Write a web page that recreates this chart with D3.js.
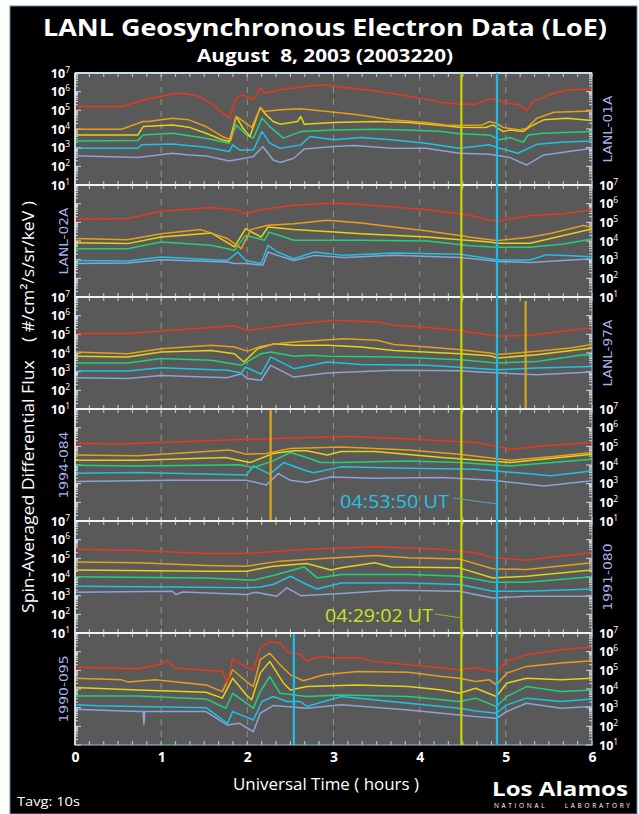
<!DOCTYPE html>
<html>
<head>
<meta charset="utf-8">
<script src="https://cdn.jsdelivr.net/npm/d3@7"></script>
<style>
  body { margin: 0; background: #fff; }
  svg { display: block; font-family: "Open Sans", sans-serif; }
</style>
</head>
<body>
<div id="chart"></div>
<script>
// values are [UT hours, log10 flux]
var hourTicks = [0, 1, 2, 3, 4, 5, 6];
var decadeExponents = [1, 2, 3, 4, 5, 6, 7];
var satellites = ["LANL-01A", "LANL-02A", "LANL-97A", "1994-084", "1991-080", "1990-095"];

var lanl01aRed = [[0,5.21],[0.54,5.21],[0.81,5.57],[1.13,5.87],[1.24,5.91],[1.44,5.75],[1.6,5.3],[1.79,4.58],[1.87,5.66],[1.93,5.84],[2.07,5.57],[2.15,6.23],[2.2,5.92],[2.38,6.1],[2.69,6.28],[2.85,6.37],[3.09,6.25],[3.48,6.05],[3.87,5.75],[4.07,5.6],[4.26,5.42],[4.46,5.33],[4.65,5.33],[4.81,5.62],[4.89,5.57],[5.01,5.39],[5.16,5.3],[5.24,4.97],[5.32,5.48],[5.52,5.87],[5.71,6.09],[6,6.14]];
var lanl01aOrange = [[0,3.99],[0.54,3.99],[0.79,4.4],[0.85,4.4],[1.13,4.58],[1.32,4.49],[1.52,4.13],[1.71,3.6],[1.81,3.42],[1.87,4.67],[1.93,4.49],[2.05,4.08],[2.15,5.15],[2.2,4.94],[2.38,5.03],[2.62,5.08],[2.93,4.94],[3.28,4.76],[3.67,4.49],[4.07,4.35],[4.3,4.22],[4.46,4.19],[4.73,4.22],[4.81,4.4],[4.89,4.31],[4.97,4.08],[5.16,3.95],[5.24,4.04],[5.36,4.58],[5.56,4.9],[6,4.97]];
var lanl01aYellow = [[0,3.68],[0.73,3.68],[0.79,4.13],[1.13,4.22],[1.32,4.1],[1.52,3.77],[1.71,3.42],[1.79,3.33],[1.87,4.67],[1.95,4.04],[2.03,3.6],[2.15,5.15],[2.2,4.85],[2.3,4.4],[2.38,4.26],[2.58,4.4],[2.62,4.67],[2.66,4.26],[3.0,4.35],[3.48,4.4],[3.87,4.35],[4.26,4.19],[4.46,4.1],[4.77,4.08],[4.85,4.22],[4.97,3.86],[5.05,3.95],[5.2,3.86],[5.28,4.13],[5.44,4.49],[5.71,4.58],[6,4.46]];
var lanl01aGreen = [[0,3.36],[0.73,3.38],[0.79,3.68],[1.13,3.77],[1.52,3.51],[1.79,3.24],[1.87,4.22],[1.99,3.68],[2.07,3.51],[2.17,4.58],[2.26,4.13],[2.42,3.51],[2.62,3.86],[3.0,3.95],[3.48,3.99],[3.87,3.95],[4.26,3.86],[4.46,3.74],[4.81,3.68],[4.93,3.42],[5.05,3.54],[5.2,3.29],[5.26,3.68],[5.44,3.77],[6,3.86]];
var lanl01aCyan = [[0,2.97],[0.73,2.97],[0.77,3.15],[1.13,3.19],[1.52,3.02],[1.79,2.79],[1.83,3.15],[1.91,2.88],[2.07,2.88],[2.17,3.86],[2.26,3.24],[2.38,2.97],[2.62,3.15],[2.73,3.6],[3.0,3.42],[3.32,3.54],[3.67,3.42],[4.07,3.24],[4.46,2.97],[4.81,3.15],[4.93,2.97],[5.14,2.7],[5.36,3.18],[5.64,3.29],[6,3.36]];
var lanl01aBlue = [[0,2.57],[0.73,2.47],[1.13,2.7],[1.32,2.61],[1.52,2.56],[1.79,2.29],[2.07,2.52],[2.18,3.06],[2.3,2.34],[2.38,2.21],[2.54,2.43],[2.66,2.93],[3.0,3.06],[3.24,3.11],[3.67,2.97],[4.07,2.97],[4.46,2.7],[4.81,2.65],[5.05,2.47],[5.24,2.07],[5.44,2.61],[6,2.97]];

var lanl02aRed = [[0,5.16],[0.61,5.2],[1.0,5.59],[1.58,5.79],[1.85,5.68],[1.98,5.46],[2.16,5.68],[2.54,5.91],[3.01,6.04],[3.32,5.96],[3.7,5.82],[4.09,5.68],[4.47,5.46],[4.6,5.37],[4.82,5.11],[4.9,5.06],[5.28,5.37],[5.67,5.46],[6,5.67]];
var lanl02aOrange = [[0,4.13],[0.61,4.07],[1.0,4.39],[1.46,4.61],[1.77,4.13],[1.93,3.59],[2.04,4.61],[2.24,4.84],[2.54,4.93],[2.93,5.11],[3.32,4.96],[3.7,4.75],[4.09,4.54],[4.47,4.3],[4.59,4.2],[4.82,4.07],[4.9,4.02],[5.28,4.2],[5.53,4.41],[5.9,4.83],[6,4.74]];
var lanl02aYellow = [[0,3.91],[0.61,3.86],[1.0,4.21],[1.58,4.43],[1.85,3.68],[1.98,4.66],[2.16,4.21],[2.24,4.75],[2.54,4.61],[3.01,4.48],[3.32,4.39],[4.09,4.21],[4.47,4.07],[4.82,3.95],[4.9,3.88],[5.28,3.88],[5.67,4.29],[6,4.65]];
var lanl02aGreen = [[0,3.59],[0.61,3.59],[1.0,3.95],[1.58,3.77],[1.85,3.5],[1.98,4.3],[2.2,4.04],[2.25,4.48],[2.54,4.04],[3.32,4.04],[4.09,4.0],[4.59,3.75],[4.9,3.66],[5.28,3.66],[5.67,3.84],[6,4.11]];
var lanl02aCyan = [[0,2.96],[0.61,2.93],[1.0,3.14],[1.77,2.96],[1.89,3.41],[1.98,2.96],[2.16,2.79],[2.24,3.77],[2.35,3.41],[2.54,3.05],[2.78,3.41],[3.12,3.23],[3.7,3.36],[4.47,3.29],[4.82,3.05],[4.9,2.98],[5.28,2.98],[5.48,3.27],[6,3.16]];
var lanl02aBlue = [[0,2.79],[0.61,2.82],[1.0,3.0],[1.77,2.88],[1.85,2.79],[2.0,2.79],[2.18,2.7],[2.24,3.41],[2.35,3.23],[2.54,2.96],[2.78,3.23],[3.12,3.11],[3.7,3.23],[4.47,3.11],[4.82,2.96],[4.9,2.9],[5.28,2.85],[6,3.05]];

var lanl97aRed = [[0,5.04],[0.61,5.04],[1.0,5.18],[1.85,5.46],[2.0,5.21],[2.54,5.54],[3.01,5.75],[3.51,5.66],[3.7,5.48],[4.09,5.36],[4.47,5.21],[4.82,4.95],[4.9,4.9],[5.28,4.95],[6,5.35]];
var lanl97aOrange = [[0,4.05],[0.61,3.96],[1.0,4.23],[1.58,4.41],[1.85,4.32],[2.0,4.1],[2.16,4.36],[2.35,4.5],[2.54,4.59],[3.12,4.77],[3.51,4.68],[3.7,4.46],[4.09,4.32],[4.47,4.18],[4.82,4.0],[4.9,3.92],[5.36,4.09],[5.75,4.27],[6,4.45]];
var lanl97aYellow = [[0,3.82],[0.61,3.79],[1.0,4.05],[1.58,4.14],[1.85,3.96],[1.96,3.52],[2.12,4.23],[2.31,4.5],[2.54,4.41],[2.93,4.41],[3.32,4.32],[3.7,4.14],[4.47,3.96],[4.82,3.85],[4.9,3.73],[5.36,3.91],[6,4.27]];
var lanl97aGreen = [[0,3.46],[0.61,3.46],[1.0,3.7],[1.58,3.61],[1.93,3.34],[2.16,3.96],[2.27,4.05],[2.54,3.82],[2.74,3.88],[2.93,3.82],[3.7,3.79],[4.47,3.64],[4.9,3.46],[5.36,3.55],[5.9,3.91],[6,3.85]];
var lanl97aCyan = [[0,3.04],[0.61,3.04],[1.0,3.21],[1.77,3.07],[1.93,2.93],[1.98,3.25],[2.16,2.86],[2.27,3.79],[2.54,3.16],[2.93,3.52],[3.32,3.39],[4.09,3.34],[4.59,3.19],[4.9,3.1],[5.36,3.19],[6,3.28]];
var lanl97aBlue = [[0,2.68],[0.61,2.63],[1.0,2.8],[1.77,2.68],[1.93,2.89],[2.0,2.63],[2.16,2.54],[2.27,3.34],[2.54,2.71],[2.93,2.93],[3.7,3.07],[4.47,3.05],[4.59,3.01],[5.36,2.83],[6,2.98]];

var s1994Red = [[0,5.17],[0.54,5.12],[1.52,5.3],[2.3,5.42],[3.2,5.53],[3.87,5.39],[4.65,5.21],[5.05,4.85],[5.44,5.03],[6,5.21]];
var s1994Orange = [[0,4.53],[0.73,4.49],[1.79,4.8],[1.99,4.58],[2.22,4.62],[2.5,4.89],[3.09,4.97],[3.87,4.8],[4.46,4.58],[5.05,4.26],[5.52,4.44],[6,4.67]];
var s1994Yellow = [[0,4.26],[0.73,4.26],[1.75,4.4],[2.03,4.13],[2.3,4.62],[2.54,4.76],[2.69,4.76],[2.93,4.54],[3.09,4.72],[3.48,4.72],[4.26,4.4],[5.05,4.13],[6,4.58]];
var s1994Green = [[0,3.99],[0.73,3.95],[1.91,4.01],[2.07,3.86],[2.3,4.22],[2.5,4.67],[2.69,4.4],[2.85,4.13],[3.09,4.13],[3.87,4.22],[4.46,4.13],[5.05,3.95],[6,4.31]];
var s1994Cyan = [[0,3.56],[0.73,3.6],[1.99,3.47],[2.07,3.95],[2.26,3.51],[2.42,4.13],[2.69,3.68],[2.77,3.59],[3.09,3.9],[3.87,3.83],[4.65,3.77],[5.24,3.54],[5.52,3.42],[6,3.68]];
var s1994Blue = [[0,3.11],[1.13,3.18],[1.99,3.18],[2.22,2.93],[2.36,3.54],[2.5,3.18],[2.69,3.06],[2.97,3.36],[3.48,3.29],[4.26,3.33],[4.85,3.18],[5.44,2.88],[6,3.15]];

var s1991Red = [[0,5.48],[0.73,5.42],[1.52,5.26],[1.99,5.26],[2.69,5.48],[3.48,5.62],[4.26,5.48],[4.65,5.3],[4.85,5.03],[5.24,4.9],[5.64,5.12],[6,5.3]];
var s1991Orange = [[0,4.8],[0.73,4.76],[1.52,4.62],[1.99,4.58],[2.38,4.85],[2.69,4.94],[3.48,5.15],[3.87,5.03],[4.46,4.97],[4.85,4.44],[5.24,4.4],[6,4.76]];
var s1991Yellow = [[0,4.37],[1.52,4.31],[1.99,4.31],[2.3,4.58],[2.69,4.72],[2.97,4.37],[3.09,4.49],[3.48,4.76],[3.67,4.54],[4.46,4.49],[4.85,3.95],[5.24,4.04],[6,4.37]];
var s1991Green = [[0,4.01],[1.52,3.95],[2.07,3.83],[2.3,4.08],[2.66,4.54],[2.81,3.95],[3.09,4.13],[3.87,4.13],[4.46,4.04],[4.85,3.72],[5.24,3.72],[6,4.01]];
var s1991Cyan = [[0,3.51],[1.13,3.47],[1.99,3.42],[2.15,3.47],[2.3,3.6],[2.5,4.04],[2.69,3.6],[2.81,3.36],[3.09,3.68],[3.87,3.68],[4.46,3.6],[4.85,3.24],[5.24,3.24],[6,3.36]];
var s1991Blue = [[0,3.18],[1.13,3.24],[1.17,3.06],[1.25,3.2],[1.99,3.06],[2.1,3.18],[2.34,2.97],[2.46,3.42],[2.62,3.0],[3.09,3.11],[3.67,3.29],[4.46,3.24],[4.85,2.88],[5.24,2.97],[6,2.97]];

var s1990Red = [[0,5.17],[0.73,5.08],[0.97,5.3],[1.07,5.51],[1.17,5.12],[1.71,4.94],[1.77,4.31],[1.83,5.62],[1.99,5.17],[2.07,5.03],[2.15,6.19],[2.26,6.55],[2.38,6.46],[2.46,6.01],[2.62,5.84],[2.69,5.51],[2.85,5.75],[3.0,5.66],[3.28,5.69],[3.48,5.48],[3.87,5.3],[4.26,5.12],[4.46,5.03],[4.65,5.15],[4.89,4.9],[5.01,5.48],[5.24,5.84],[5.64,6.1],[6,6.25]];
var s1990Orange = [[0,4.58],[0.54,4.49],[0.62,4.37],[0.93,4.49],[1.52,4.22],[1.71,3.86],[1.83,5.03],[1.99,4.4],[2.07,4.13],[2.15,5.57],[2.26,5.92],[2.38,5.3],[2.5,4.76],[2.65,4.44],[2.89,4.76],[3.28,4.94],[3.87,4.9],[4.26,4.67],[4.46,4.58],[4.65,4.4],[4.81,4.49],[4.89,4.22],[5.01,4.85],[5.24,5.21],[5.64,5.39],[6,5.51]];
var s1990Yellow = [[0,4.08],[0.73,3.95],[1.52,3.83],[1.71,3.51],[1.83,4.58],[1.99,3.68],[2.05,3.42],[2.15,4.85],[2.26,5.48],[2.42,4.31],[2.5,3.95],[2.69,4.13],[3.28,4.22],[3.87,4.13],[4.26,3.95],[4.46,3.77],[4.65,4.04],[4.89,3.6],[5.01,4.31],[5.24,4.58],[5.64,4.49],[6,4.58]];
var s1990Green = [[0,3.63],[0.73,3.63],[1.52,3.47],[1.75,2.97],[1.83,3.77],[2.07,2.97],[2.15,3.86],[2.26,4.67],[2.38,3.77],[2.69,3.6],[3.09,3.68],[3.87,3.6],[4.46,3.33],[4.65,3.51],[4.89,3.06],[5.01,3.6],[5.24,4.13],[5.64,3.86],[6,3.95]];
var s1990Cyan = [[0,3.15],[0.26,3.1],[0.73,3.06],[1.52,3.0],[1.77,2.16],[1.83,2.79],[2.07,2.34],[2.17,3.33],[2.3,3.6],[2.46,3.33],[2.62,3.33],[2.69,3.06],[3.09,3.6],[3.87,3.24],[4.46,2.97],[4.65,2.82],[4.89,2.7],[5.01,3.15],[5.24,3.51],[5.64,3.33],[6,3.47]];
var s1990Blue = [[0,2.91],[0.73,2.79],[0.79,2.79],[0.8,2.1],[0.81,2.79],[1.52,2.79],[1.77,2.07],[1.91,2.16],[2.07,1.71],[2.15,2.7],[2.3,3.11],[2.69,2.97],[3.09,3.15],[3.87,2.88],[4.46,2.61],[4.65,2.52],[4.89,2.43],[5.01,2.79],[5.24,3.24],[5.64,2.97],[6,3.06]];

// event times (hours) and short per-panel markers
var yellowMarkTime = 4.484;   // 04:29:02
var cyanMarkTime = 4.897;     // 04:53:50
var panelMarkTimes = [null, null, 5.23, 2.27, null, 2.54];

/* layout */
var width = 639, height = 814;
var plotLeft = 75, plotRight = 592;
var plotTop = 73, panelH = 112;
var channelColors = ["#e8381e", "#e89e1c", "#e2d414", "#22d07a", "#1cc4e4", "#8ca2d8"];
var panelMarkColors = [null, null, "#d4a41c", "#e0a814", null, "#1cc0e8"];

var panels = [
  [lanl01aRed, lanl01aOrange, lanl01aYellow, lanl01aGreen, lanl01aCyan, lanl01aBlue],
  [lanl02aRed, lanl02aOrange, lanl02aYellow, lanl02aGreen, lanl02aCyan, lanl02aBlue],
  [lanl97aRed, lanl97aOrange, lanl97aYellow, lanl97aGreen, lanl97aCyan, lanl97aBlue],
  [s1994Red, s1994Orange, s1994Yellow, s1994Green, s1994Cyan, s1994Blue],
  [s1991Red, s1991Orange, s1991Yellow, s1991Green, s1991Cyan, s1991Blue],
  [s1990Red, s1990Orange, s1990Yellow, s1990Green, s1990Cyan, s1990Blue]
];

var svg = d3.select("#chart").append("svg")
  .attr("width", width)
  .attr("height", height);

svg.append("rect")
  .attr("x", 10).attr("y", 6)
  .attr("width", 627).attr("height", 808)
  .attr("fill", "#000")
  .attr("stroke", "#5a8ab8").attr("stroke-width", 1);

var xScale = d3.scaleLinear().domain([0, 6]).range([plotLeft, plotRight]);
var minorX = d3.range(0, 36.5).map(d => d / 6);

var plotBottom = plotTop + panelH * panels.length;

svg.append("rect")
  .attr("x", plotLeft).attr("y", plotTop)
  .attr("width", plotRight - plotLeft).attr("height", plotBottom - plotTop)
  .attr("fill", "#595959");

panels.forEach(function(series, i) {
  var y0 = plotTop + i * panelH;
  var yScale = d3.scaleLog().domain([1e1, 1e7]).range([y0 + panelH, y0]);
  var g = svg.append("g");

  g.append("clipPath").attr("id", "clip" + i)
    .append("rect")
    .attr("x", plotLeft).attr("y", y0)
    .attr("width", plotRight - plotLeft).attr("height", panelH);

  // dashed hour grid
  g.selectAll(".hgrid").data(hourTicks.slice(1, 6)).enter()
    .append("line")
    .attr("x1", d => xScale(d)).attr("x2", d => xScale(d))
    .attr("y1", y0 + 2).attr("y2", y0 + panelH)
    .attr("stroke", d => d % 2 ? "#84a07e" : "#a08682")
    .attr("stroke-width", 1)
    .attr("stroke-dasharray", "6,6");

  // minor time ticks top and bottom
  g.selectAll(".tt").data(minorX).enter()
    .append("line")
    .attr("x1", d => xScale(d)).attr("x2", d => xScale(d))
    .attr("y1", y0).attr("y2", y0 + 4)
    .attr("stroke", "#aec6a6").attr("stroke-width", 1.2);
  g.selectAll(".tb").data(minorX).enter()
    .append("line")
    .attr("x1", d => xScale(d)).attr("x2", d => xScale(d))
    .attr("y1", y0 + panelH - 4).attr("y2", y0 + panelH)
    .attr("stroke", "#aec6a6").attr("stroke-width", 1.2);

  // log ticks on both edges
  var yt = yScale.ticks();
  [plotLeft, plotRight].forEach(function(xe, k) {
    var dir = k === 0 ? 1 : -1;
    g.selectAll(".yt" + k).data(yt).enter()
      .append("line")
      .attr("x1", xe)
      .attr("x2", d => xe + dir * (Math.abs(Math.log10(d) % 1) < 1e-6 ? 6 : 3))
      .attr("y1", d => yScale(d)).attr("y2", d => yScale(d))
      .attr("stroke", "#d8d8d8").attr("stroke-width", 1);
  });

  // flux lines, lowest channel first
  var line = d3.line()
    .x(d => xScale(d[0]))
    .y(d => yScale(Math.pow(10, d[1])));

  g.append("g").attr("clip-path", "url(#clip" + i + ")")
    .selectAll("path")
    .data(series.map((s, k) => ({ pts: s, k: k })).reverse())
    .enter().append("path")
    .attr("d", d => line(d.pts))
    .attr("fill", "none")
    .attr("stroke", d => channelColors[d.k])
    .attr("stroke-width", 1.5)
    .attr("stroke-linejoin", "round");

  // short marker inside single panel
  if (panelMarkTimes[i] !== null) {
    g.append("line")
      .attr("x1", xScale(panelMarkTimes[i])).attr("x2", xScale(panelMarkTimes[i]))
      .attr("y1", y0 + (i === 2 ? 4 : 0)).attr("y2", y0 + panelH)
      .attr("stroke", panelMarkColors[i]).attr("stroke-width", 2.2);
  }

  // decade labels, alternating sides
  var onLeft = i % 2 === 0;
  var lab = g.selectAll(".ylab").data(decadeExponents).enter()
    .append("text")
    .attr("x", onLeft ? 70 : 599)
    .attr("y", d => yScale(Math.pow(10, d)) + 4.5)
    .attr("text-anchor", onLeft ? "end" : "start")
    .attr("fill", "#fff")
    .attr("font-weight", "bold")
    .attr("font-size", 12.5);
  lab.append("tspan").text("10");
  lab.append("tspan").attr("dy", -5).attr("font-size", 8.5).attr("font-weight", "normal").text(d => d);

  // satellite name on the other side
  var nx = onLeft ? 612 : 68;
  var ny = y0 + panelH / 2;
  g.append("text")
    .attr("transform", `translate(${nx},${ny}) rotate(-90)`)
    .attr("text-anchor", "middle")
    .attr("font-family", "DejaVu Sans, sans-serif")
    .attr("font-size", 13)
    .attr("textLength", 67).attr("lengthAdjust", "spacingAndGlyphs")
    .attr("fill", "#a6aee6")
    .text(satellites[i]);
});

// panel separators
svg.selectAll(".sep").data(d3.range(panels.length)).enter()
  .append("line")
  .attr("x1", plotLeft).attr("x2", plotRight)
  .attr("y1", d => plotTop + d * panelH).attr("y2", d => plotTop + d * panelH)
  .attr("stroke", "#f4f4f4").attr("stroke-width", 2.2);

svg.append("rect")
  .attr("x", plotLeft).attr("y", plotTop)
  .attr("width", plotRight - plotLeft).attr("height", plotBottom - plotTop)
  .attr("fill", "none")
  .attr("stroke", "#9cc8ec").attr("stroke-width", 1);

svg.append("line")
  .attr("x1", plotLeft).attr("x2", plotLeft)
  .attr("y1", plotTop).attr("y2", plotBottom)
  .attr("stroke", "#f0f0f0").attr("stroke-width", 1.5);

// event lines across all panels
[[yellowMarkTime, "#c6d800"], [cyanMarkTime, "#1cbce4"]].forEach(function(m) {
  svg.append("line")
    .attr("x1", xScale(m[0])).attr("x2", xScale(m[0]))
    .attr("y1", plotTop).attr("y2", plotBottom)
    .attr("stroke", m[1]).attr("stroke-width", 2.2);
});

// event annotations
svg.append("line")
  .attr("x1", 453).attr("y1", 498)
  .attr("x2", xScale(cyanMarkTime)).attr("y2", 504)
  .attr("stroke", "#6a9cc0").attr("stroke-width", 1);
svg.append("text")
  .attr("x", 340).attr("y", 508)
  .attr("fill", "#26c2e4")
  .attr("font-size", 19)
  .attr("textLength", 109).attr("lengthAdjust", "spacingAndGlyphs")
  .text("04:53:50 UT");

svg.append("line")
  .attr("x1", 435).attr("y1", 614)
  .attr("x2", xScale(yellowMarkTime)).attr("y2", 618)
  .attr("stroke", "#9cae2c").attr("stroke-width", 1);
svg.append("text")
  .attr("x", 325).attr("y", 622)
  .attr("fill", "#c8e41c")
  .attr("font-size", 19)
  .attr("textLength", 108).attr("lengthAdjust", "spacingAndGlyphs")
  .text("04:29:02 UT");

/* x axis */
var xAxis = d3.axisBottom(xScale)
  .tickValues(hourTicks)
  .tickFormat(d3.format("d"))
  .tickSize(0).tickPadding(0);
var xg = svg.append("g")
  .attr("transform", `translate(0, ${plotBottom})`)
  .call(xAxis);
xg.select(".domain").remove();
xg.selectAll("text")
  .attr("y", 17)
  .attr("dy", 0)
  .attr("fill", "#fff")
  .attr("font-family", "Open Sans, sans-serif")
  .attr("font-weight", "bold")
  .attr("font-size", 14);

svg.append("text")
  .attr("x", 326).attr("y", 790)
  .attr("text-anchor", "middle")
  .attr("fill", "#fff")
  .attr("font-size", 17)
  .attr("textLength", 186).attr("lengthAdjust", "spacingAndGlyphs")
  .text("Universal Time ( hours )");

svg.append("text")
  .attr("transform", "translate(34, 407) rotate(-90)")
  .attr("text-anchor", "middle")
  .attr("fill", "#fff")
  .attr("font-size", 17)
  .attr("textLength", 412).attr("lengthAdjust", "spacingAndGlyphs")
  .attr("xml:space", "preserve")
  .text("Spin-Averaged Differential Flux    ( #/cm\u00b2/s/sr/keV )");

/* titles */
svg.append("text")
  .attr("x", 325).attr("y", 36)
  .attr("text-anchor", "middle")
  .attr("fill", "#fff")
  .attr("font-weight", "bold")
  .attr("font-size", 24)
  .attr("textLength", 564).attr("lengthAdjust", "spacingAndGlyphs")
  .text("LANL Geosynchronous Electron Data (LoE)");

svg.append("text")
  .attr("x", 325).attr("y", 62)
  .attr("text-anchor", "middle")
  .attr("fill", "#fff")
  .attr("font-weight", "bold")
  .attr("font-size", 17)
  .attr("textLength", 256).attr("lengthAdjust", "spacingAndGlyphs")
  .attr("xml:space", "preserve")
  .text("August  8, 2003 (2003220)");

svg.append("text")
  .attr("x", 17).attr("y", 806)
  .attr("fill", "#fff")
  .attr("font-size", 13)
  .attr("textLength", 63).attr("lengthAdjust", "spacingAndGlyphs")
  .text("Tavg: 10s");

svg.append("text")
  .attr("x", 492).attr("y", 796)
  .attr("fill", "#fff")
  .attr("font-weight", "bold")
  .attr("font-size", 20)
  .attr("textLength", 136).attr("lengthAdjust", "spacingAndGlyphs")
  .text("Los Alamos");

svg.append("text")
  .attr("x", 494).attr("y", 808)
  .attr("fill", "#fff")
  .attr("font-size", 6.5)
  .attr("textLength", 136).attr("lengthAdjust", "spacing")
  .attr("xml:space", "preserve")
  .text("NATIONAL    LABORATORY");
</script>
</body>
</html>
